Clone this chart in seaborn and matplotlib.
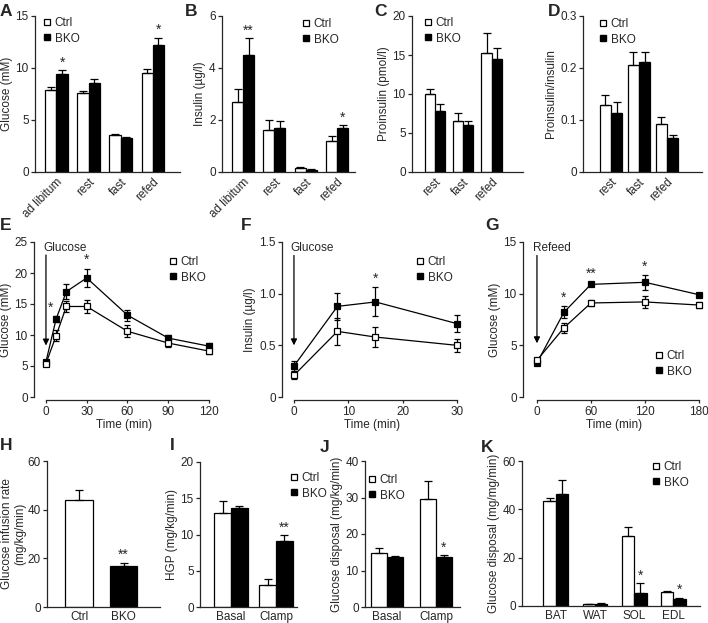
import matplotlib
matplotlib.use("Agg")
import matplotlib.pyplot as plt
from matplotlib.lines import Line2D
import numpy as np
import pandas as pd
import seaborn as sns

# ---- data ----
# A, B: fed states
states4 = ["ad libitum", "rest", "fast", "refed"]
glc_ctrl = [7.9, 7.6, 3.6, 9.5]
glc_ctrl_err = [0.3, 0.15, 0.1, 0.4]
glc_bko = [9.4, 8.6, 3.3, 12.2]
glc_bko_err = [0.4, 0.3, 0.07, 0.7]

ins_ctrl = [2.7, 1.6, 0.15, 1.2]
ins_ctrl_err = [0.5, 0.4, 0.05, 0.17]
ins_bko = [4.5, 1.7, 0.08, 1.68]
ins_bko_err = [0.65, 0.28, 0.03, 0.12]

# C, D
states3 = ["rest", "fast", "refed"]
pro_ctrl = [10.0, 6.6, 15.3]
pro_ctrl_err = [0.7, 0.9, 2.5]
pro_bko = [7.8, 6.0, 14.5]
pro_bko_err = [0.9, 0.6, 1.4]

ratio_ctrl = [0.128, 0.206, 0.093]
ratio_ctrl_err = [0.02, 0.025, 0.012]
ratio_bko = [0.113, 0.211, 0.066]
ratio_bko_err = [0.022, 0.02, 0.006]

# E: glucose tolerance
gtt_t = [0, 7.5, 15, 30, 60, 90, 120]
gtt_ctrl = [5.4, 9.9, 14.6, 14.6, 10.6, 8.7, 7.4]
gtt_ctrl_err = [0.3, 0.9, 0.9, 1.1, 1.0, 0.7, 0.5]
gtt_bko = [5.7, 12.6, 17.0, 19.2, 13.2, 9.5, 8.2]
gtt_bko_err = [0.3, 0.5, 1.2, 1.5, 0.9, 0.5, 0.5]

# F: insulin after glucose
gsis_t = [0, 8, 15, 30]
gsis_ctrl = [0.21, 0.635, 0.58, 0.50]
gsis_ctrl_err = [0.04, 0.13, 0.1, 0.06]
gsis_bko = [0.30, 0.877, 0.92, 0.71]
gsis_bko_err = [0.05, 0.13, 0.14, 0.08]

# G: refeeding
ref_t = [0, 30, 60, 120, 180]
ref_ctrl = [3.55, 6.7, 9.1, 9.2, 8.9]
ref_ctrl_err = [0.2, 0.5, 0.3, 0.6, 0.3]
ref_bko = [3.3, 8.2, 10.9, 11.1, 9.9]
ref_bko_err = [0.2, 0.6, 0.2, 0.7, 0.2]

# H
gir_groups = ["Ctrl", "BKO"]
gir_vals = [44.0, 16.8]
gir_err = [4.0, 1.3]

# I, J
clamp_states = ["Basal", "Clamp"]
hgp_ctrl = [13.0, 3.1]
hgp_ctrl_err = [1.6, 0.7]
hgp_bko = [13.7, 9.1]
hgp_bko_err = [0.3, 0.8]

gd_ctrl = [14.9, 29.6]
gd_ctrl_err = [1.3, 5.0]
gd_bko = [13.7, 13.7]
gd_bko_err = [0.2, 0.5]

# K
tissues = ["BAT", "WAT", "SOL", "EDL"]
tis_ctrl = [43.5, 0.8, 28.8, 5.8]
tis_ctrl_err = [1.0, 0.2, 4.0, 0.4]
tis_bko = [46.5, 0.9, 5.5, 3.0]
tis_bko_err = [5.5, 0.2, 4.0, 0.4]

sns.set_style("ticks")
plt.rcParams["font.family"] = ["Liberation Sans", "DejaVu Sans"]
plt.rcParams["font.size"] = 8.5
plt.rcParams["axes.linewidth"] = 0.9
plt.rcParams["xtick.major.width"] = 0.9
plt.rcParams["ytick.major.width"] = 0.9
plt.rcParams["ytick.major.size"] = 3
plt.rcParams["xtick.major.size"] = 3
plt.rcParams["xtick.major.pad"] = 1.5
plt.rcParams["ytick.major.pad"] = 1.5
plt.rcParams["xtick.labelsize"] = 8.5
plt.rcParams["ytick.labelsize"] = 8.5
plt.rcParams["axes.labelsize"] = 8.5

W, H = 708, 623
fig = plt.figure(figsize=(W / 100, H / 100), dpi=100)
pal = {"Ctrl": "white", "BKO": "black"}


def add_ax(l, t, r, b):
    return fig.add_axes([l / W, 1 - b / H, (r - l) / W, (b - t) / H])


def letter(x, y, s):
    fig.text(x / W, 1 - y / H, s, fontsize=12.5, fontweight="bold", ha="center", va="center")


def legend(ax, x, y):
    handles = [Line2D([], [], marker="s", ls="none", color="black", markerfacecolor="white",
                      markeredgewidth=0.9, markersize=5),
               Line2D([], [], marker="s", ls="none", color="black", markersize=5)]
    ax.legend(handles, ["Ctrl", "BKO"], loc="upper left", bbox_to_anchor=(x / W, 1 - y / H),
              bbox_transform=fig.transFigure, frameon=False, handlelength=0.6, handletextpad=0.4,
              borderpad=0, borderaxespad=0, labelspacing=0.3, fontsize=8.5)


def bar_panel(ax, cats, ctrl, ctrl_err, bko, bko_err, width, xlim, ylim, yticks, ylabel,
              stars=(), rotate=False, yfmt=None):
    n = len(cats)
    df = pd.DataFrame({"cat": list(cats) * 2, "group": ["Ctrl"] * n + ["BKO"] * n,
                       "val": list(ctrl) + list(bko)})
    sns.barplot(data=df, x="cat", y="val", hue="group", hue_order=["Ctrl", "BKO"], palette=pal,
                edgecolor="black", linewidth=0.9, width=width, errorbar=None, legend=False,
                saturation=1, ax=ax)
    tops = {}
    for g, cont, errs in zip(["Ctrl", "BKO"], ax.containers, [ctrl_err, bko_err]):
        xs = [p.get_x() + p.get_width() / 2 for p in cont]
        hs = [p.get_height() for p in cont]
        ax.errorbar(xs, hs, yerr=[np.zeros(n), errs], fmt="none", ecolor="black",
                    elinewidth=0.9, capsize=3, capthick=0.9, zorder=1)
        for i in range(n):
            tops[(g, i)] = (xs[i], hs[i] + errs[i])
    for g, i, s in stars:
        x, y = tops[(g, i)]
        ax.annotate(s, (x, y), xytext=(0, 0.5), textcoords="offset points", ha="center",
                    va="bottom", fontsize=10)
    finish_bar(ax, xlim, ylim, yticks, ylabel, rotate, yfmt)


def finish_bar(ax, xlim, ylim, yticks, ylabel, rotate=False, yfmt=None, labelpad=2):
    ax.set_xlim(*xlim)
    ax.set_ylim(*ylim)
    ax.set_yticks(yticks)
    if yfmt:
        ax.set_yticklabels([yfmt(v) for v in yticks])
    ax.set_xlabel("")
    ax.set_ylabel(ylabel, labelpad=labelpad)
    ax.tick_params(axis="x", length=0, pad=3)
    if rotate:
        for lab in ax.get_xticklabels():
            lab.set_rotation(45)
            lab.set_ha("right")
            lab.set_rotation_mode("anchor")
    sns.despine(ax=ax)


def line_panel(ax, t, ctrl, ctrl_err, bko, bko_err, xlim, xticks, ylim, yticks, ylabel,
               stars=(), yfmt=None):
    for vals, errs, face in [(bko, bko_err, "black"), (ctrl, ctrl_err, "white")]:
        ax.errorbar(t, vals, yerr=errs, fmt="none", ecolor="black", elinewidth=0.9,
                    capsize=2.5, capthick=0.9, zorder=2)
        df = pd.DataFrame({"t": t, "v": vals})
        sns.lineplot(data=df, x="t", y="v", ax=ax, color="black", linewidth=0.9, marker="s",
                     markersize=5, markerfacecolor=face, markeredgecolor="black",
                     markeredgewidth=0.9, errorbar=None, zorder=3)
    for i, s, dx in stars:
        ax.annotate(s, (t[i], bko[i] + bko_err[i]), xytext=(dx, 1), textcoords="offset points",
                    ha="center", va="bottom", fontsize=10)
    ax.set_xlim(*xlim)
    ax.set_ylim(*ylim)
    ax.set_xticks(xticks)
    ax.set_yticks(yticks)
    if yfmt:
        ax.set_yticklabels([yfmt(v) for v in yticks])
    ax.set_xlabel("Time (min)", labelpad=1)
    ax.set_ylabel(ylabel, labelpad=2)
    sns.despine(ax=ax)
    ax.spines["bottom"].set_position(("outward", 2.5))
    ax.spines["bottom"].set_bounds(xticks[0], xticks[-1])
    ax.spines["left"].set_bounds(ylim[0], ylim[1])
    ax.tick_params(axis="x", length=2.5)


def arrow(ax, x, y0, y1, text, tx, ty):
    ax.annotate("", xy=(x, y1), xytext=(x, y0),
                arrowprops=dict(arrowstyle="-|>", color="black", lw=0.9, mutation_scale=9,
                                shrinkA=0, shrinkB=0))
    ax.text(tx, ty, text, ha="left", va="center", fontsize=8.5)


# ---- row 1 ----
axA = add_ax(35, 16, 180, 172)
bar_panel(axA, states4, glc_ctrl, glc_ctrl_err, glc_bko, glc_bko_err, 0.7, (-0.67, 3.85),
          (0, 15), [0, 5, 10, 15], "Glucose (mM)",
          stars=[("BKO", 0, "*"), ("BKO", 3, "*")], rotate=True)
legend(axA, 43, 17)

axB = add_ax(222, 16, 355, 172)
bar_panel(axB, states4, ins_ctrl, ins_ctrl_err, ins_bko, ins_bko_err, 0.7, (-0.67, 3.57),
          (0, 6), [0, 2, 4, 6], "Insulin (\u00b5g/l)",
          stars=[("BKO", 0, "**"), ("BKO", 3, "*")], rotate=True)
legend(axB, 302, 18)

axC = add_ax(412, 16, 523, 172)
bar_panel(axC, states3, pro_ctrl, pro_ctrl_err, pro_bko, pro_bko_err, 0.72, (-0.8, 3.1),
          (0, 20), [0, 5, 10, 15, 20], "Proinsulin (pmol/l)", rotate=True)
legend(axC, 424, 17)

axD = add_ax(583, 16, 702, 172)
bar_panel(axD, states3, ratio_ctrl, ratio_ctrl_err, ratio_bko, ratio_bko_err, 0.8,
          (-1.0, 3.25), (0, 0.3), [0, 0.1, 0.2, 0.3], "Proinsulin/insulin", rotate=True,
          yfmt=lambda v: "0" if v == 0 else f"{v:.1f}")
legend(axD, 599, 18)

# ---- row 2 ----
axE = add_ax(34, 242, 215, 397)
line_panel(axE, gtt_t, gtt_ctrl, gtt_ctrl_err, gtt_bko, gtt_bko_err, (-8.8, 124.4),
           [0, 30, 60, 90, 120], (0, 25), [0, 5, 10, 15, 20, 25], "Glucose (mM)",
           stars=[(1, "*", -4), (3, "*", 0)])
arrow(axE, 0, 22.9, 8.3, "Glucose", -2.2, 24.0)
legend(axE, 169, 256)

axF = add_ax(282, 242, 463, 397)
line_panel(axF, gsis_t, gsis_ctrl, gsis_ctrl_err, gsis_bko, gsis_bko_err, (-2.2, 31.1),
           [0, 10, 20, 30], (0, 1.5), [0, 0.5, 1.0, 1.5], "Insulin (\u00b5g/l)",
           stars=[(2, "*", 0)], yfmt=lambda v: "0" if v == 0 else f"{v:.1f}")
arrow(axF, 0, 1.37, 0.50, "Glucose", -0.74, 1.44)
legend(axF, 416, 256)

axG = add_ax(523, 242, 705, 397)
line_panel(axG, ref_t, ref_ctrl, ref_ctrl_err, ref_bko, ref_bko_err, (-15.5, 186.7),
           [0, 60, 120, 180], (0, 15), [0, 5, 10, 15], "Glucose (mM)",
           stars=[(1, "*", 0), (2, "**", 0), (3, "*", 0)])
arrow(axG, 0, 13.7, 5.2, "Refeed", -4.4, 14.4)
legend(axG, 655, 350)

# ---- row 3 ----
axH = add_ax(47, 461, 160, 607)
dfH = pd.DataFrame({"group": gir_groups, "val": gir_vals})
sns.barplot(data=dfH, x="group", y="val", hue="group", hue_order=gir_groups, palette=pal,
            edgecolor="black", linewidth=0.9, width=0.62, errorbar=None, legend=False,
            saturation=1, ax=axH)
bars = [p for cont in axH.containers for p in cont]
for p, e, s in zip(bars, gir_err, ["", "**"]):
    xc = p.get_x() + p.get_width() / 2
    axH.errorbar([xc], [p.get_height()], yerr=[[0], [e]], fmt="none", ecolor="black",
                 elinewidth=0.9, capsize=3, capthick=0.9, zorder=1)
    if s:
        axH.annotate(s, (xc, p.get_height() + e), xytext=(0, 0.5), textcoords="offset points",
                     ha="center", va="bottom", fontsize=10)
finish_bar(axH, (-0.72, 1.82), (0, 60), [0, 20, 40, 60],
           "Glucose infusion rate\n(mg/kg/min)", labelpad=1)
axH.yaxis.label.set_linespacing(1.1)

axI = add_ax(200, 462, 297, 607)
bar_panel(axI, clamp_states, hgp_ctrl, hgp_ctrl_err, hgp_bko, hgp_bko_err, 0.74,
          (-0.69, 1.47), (0, 20), [0, 5, 10, 15, 20], "HGP (mg/kg/min)",
          stars=[("BKO", 1, "**")])
legend(axI, 290, 472)

axJ = add_ax(365, 461, 460, 607)
bar_panel(axJ, clamp_states, gd_ctrl, gd_ctrl_err, gd_bko, gd_bko_err, 0.64,
          (-0.45, 1.49), (0, 40), [0, 10, 20, 30, 40], "Glucose disposal (mg/kg/min)",
          stars=[("BKO", 1, "*")])
legend(axJ, 368, 474)

axK = add_ax(522, 461, 700, 606)
bar_panel(axK, tissues, tis_ctrl, tis_ctrl_err, tis_bko, tis_bko_err, 0.64,
          (-0.87, 3.69), (0, 60), [0, 20, 40, 60], "Glucose disposal (mg/mg/min)",
          stars=[("BKO", 2, "*"), ("BKO", 3, "*")])
legend(axK, 652, 461)

for x, y, s in [(6, 11, "A"), (191, 11, "B"), (380, 12, "C"), (554, 12, "D"),
                (6, 225, "E"), (246, 225, "F"), (492, 225, "G"),
                (6, 445, "H"), (172, 445, "I"), (325, 448, "J"), (487, 448, "K")]:
    letter(x, y, s)

fig.savefig("out.png", dpi=100)
